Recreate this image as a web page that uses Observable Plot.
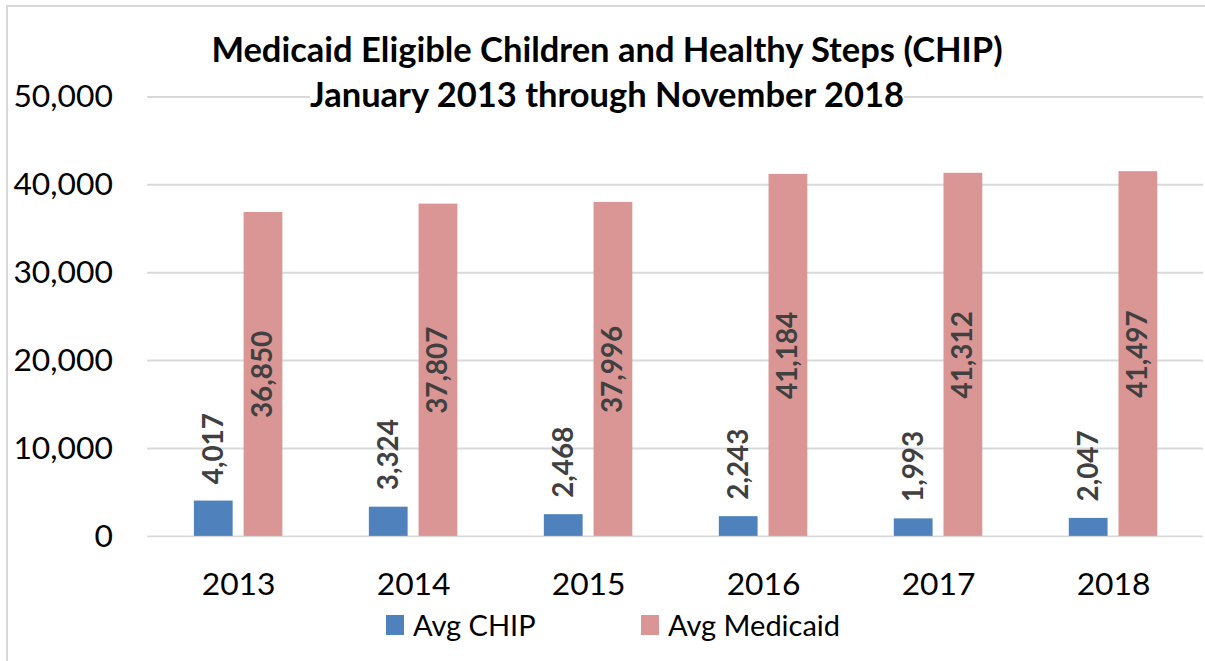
<!DOCTYPE html>
<html>
<head>
<meta charset="utf-8">
<script src="https://cdn.jsdelivr.net/npm/d3@7"></script>
<script src="https://cdn.jsdelivr.net/npm/@observablehq/plot@0.6"></script>
<style>
  html, body { margin: 0; padding: 0; background: #fff; overflow: hidden; width: 1205px; height: 661px; }
  #frame { position: absolute; left: 6px; top: 5px; width: 1400px; height: 900px; border: 2px solid #d9d9d9; box-sizing: border-box; }
  #chart { position: absolute; left: 0; top: 0; }
  #title { position: absolute; left: 0; top: 26px; width: 1214px; text-align: center; font: bold 34.5px Lato, sans-serif; line-height: 45px; color: #000; }
  #title span { background: #fff; display: inline-block; white-space: nowrap; }
  #legend { position: absolute; left: 386px; top: 605px; display: flex; align-items: center; font: 29px Lato, sans-serif; line-height: 40px; color: #000; }
  .item { display: flex; align-items: center; min-width: 255px; }
  .sw { width: 18px; height: 20px; margin-right: 9px; }
</style>
</head>
<body>
<div id="frame"></div>
<div id="chart"></div>
<div id="title"></div>
<div id="legend"></div>
<script>
const titleLines = ["Medicaid Eligible Children and Healthy Steps (CHIP)", "January 2013 through November 2018"];
const years = ["2013", "2014", "2015", "2016", "2017", "2018"];
const series = ["Avg CHIP", "Avg Medicaid"];
const colors = ["#4F81BD", "#D99694"];
const chip = [4017, 3324, 2468, 2243, 1993, 2047];
const medicaid = [36850, 37807, 37996, 41184, 41312, 41497];
const yTicks = [0, 10000, 20000, 30000, 40000, 50000];

const rows = years.flatMap((year, i) => [
  {year, series: series[0], value: chip[i]},
  {year, series: series[1], value: medicaid[i]}
]);
const chipRows = rows.filter(d => d.series === series[0]);
const medRows = rows.filter(d => d.series === series[1]);
const fmt = d3.format(",");

const plot = Plot.plot({
  width: 1212,
  height: 605,
  marginLeft: 148,
  marginRight: 2,
  marginTop: 97,
  marginBottom: 66,
  style: {fontFamily: "Lato, sans-serif", fontSize: "32px", color: "#000", background: "transparent", overflow: "visible"},
  x: {domain: years, paddingInner: 0.497, paddingOuter: 0.2486, label: null, tickSize: 0, tickPadding: 36},
  y: {domain: [0, 50000], ticks: yTicks, tickFormat: fmt, label: null, tickSize: 0, tickPadding: 35},
  color: {domain: series, range: colors},
  marks: [
    Plot.ruleY(yTicks, {stroke: "#d9d9d9", strokeWidth: 2}),
    Plot.barY(chipRows, {x: "year", y: "value", fill: "series", insetRight: 50}),
    Plot.barY(medRows, {x: "year", y: "value", fill: "series", insetLeft: 50}),
    Plot.text(chipRows, {x: "year", y: "value", text: d => fmt(d.value), rotate: -90, textAnchor: "start", lineAnchor: "middle", dx: -25, dy: -17, fill: "#404040", fontWeight: "bold", fontSize: 28}),
    Plot.text(medRows, {x: "year", y: d => d.value / 2, text: d => fmt(d.value), rotate: -90, textAnchor: "middle", lineAnchor: "middle", dx: 25, fill: "#404040", fontWeight: "bold", fontSize: 28})
  ]
});
document.getElementById("chart").appendChild(plot);

const title = document.getElementById("title");
titleLines.forEach(t => {
  const s = document.createElement("span");
  s.textContent = t;
  title.appendChild(s);
  title.appendChild(document.createElement("br"));
});

const legend = document.getElementById("legend");
series.forEach((s, i) => {
  const item = document.createElement("div");
  item.className = "item";
  const sw = document.createElement("div");
  sw.className = "sw";
  sw.style.background = colors[i];
  const label = document.createElement("span");
  label.textContent = s;
  item.appendChild(sw);
  item.appendChild(label);
  legend.appendChild(item);
});
</script>
</body>
</html>
